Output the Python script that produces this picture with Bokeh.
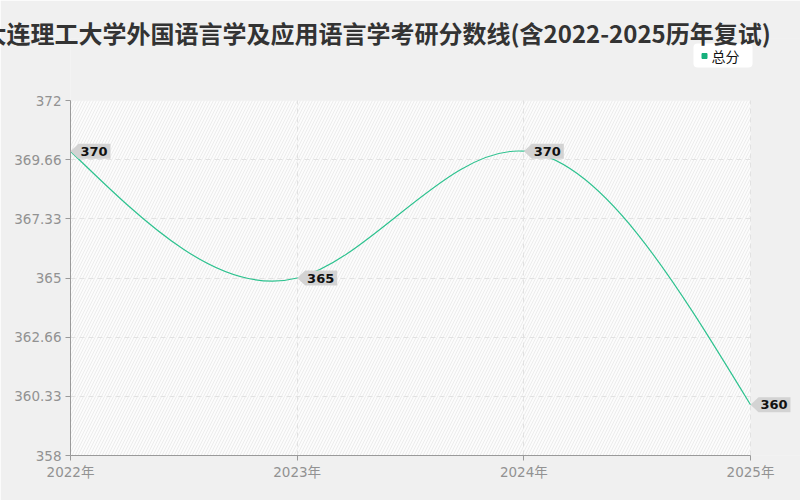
import numpy as np
from bokeh.plotting import figure
from bokeh.models import (FixedTicker, BoxAnnotation, Label, PolyAnnotation, Range1d)
from bokeh.embed import file_html
from bokeh.resources import INLINE

# ---------------- data ----------------
title_text = "大连理工大学外国语言学及应用语言学考研分数线(含2022-2025历年复试)"
series_name = "总分"
years = ["2022年", "2023年", "2024年", "2025年"]
scores = [370, 365, 370, 360]
y_tick_values = [358, 360.33, 362.66, 365, 367.33, 369.66, 372]
y_tick_labels = ["358", "360.33", "362.66", "365", "367.33", "369.66", "372"]

# ---------------- layout ----------------
W, H = 800, 500
PL, PR, PT, PB = 70, 750, 100, 455      # data area in canvas pixels
FT = 38                                  # frame top (room for legend / callouts)
x_lo, x_hi_data = 0, len(years) - 1
y_lo, y_hi_data = y_tick_values[0], y_tick_values[-1]
sx = (PR - PL) / (x_hi_data - x_lo)      # px per x unit
sy = (PB - PT) / (y_hi_data - y_lo)      # px per y unit
x_hi = x_hi_data + (W - PR) / sx
y_hi = y_hi_data + (PT - FT) / sy


def px_x(px):
    return x_lo + (px - PL) / sx


def px_y(py):
    return y_lo + (PB - py) / sy


LINE = "#2ec28f"
AXIS = "#9a9a9a"
LABEL = "#929292"
BG = "#f0f0f0"

p = figure(width=W, height=H, x_range=Range1d(x_lo, x_hi), y_range=Range1d(y_lo, y_hi),
           output_backend="svg", toolbar_location=None,
           min_border_left=PL, min_border_right=0, min_border_top=FT,
           min_border_bottom=H - PB)
p.border_fill_color = BG
p.background_fill_color = BG
p.outline_line_color = None

# hatched data area
p.add_layout(BoxAnnotation(left=x_lo, right=x_hi_data, bottom=y_lo, top=y_hi_data,
                           fill_color="#fcfcfc", fill_alpha=1, line_color=None,
                           hatch_pattern="right_diagonal_line", hatch_color="#ececec",
                           hatch_scale=6, hatch_weight=1, level="image"))

# axes
xs_idx = list(range(len(years)))
p.xaxis.ticker = FixedTicker(ticks=xs_idx)
p.xaxis.major_label_overrides = {i: years[i] for i in xs_idx}
p.xaxis.bounds = (x_lo, x_hi_data)
p.yaxis.ticker = FixedTicker(ticks=y_tick_values)
p.yaxis.major_label_overrides = {v: l for v, l in zip(y_tick_values, y_tick_labels)}
p.yaxis.bounds = (y_lo, y_hi_data)
for ax in (p.xaxis, p.yaxis):
    ax.axis_line_color = AXIS
    ax.major_tick_line_color = AXIS
    ax.minor_tick_line_color = None
    ax.major_tick_out = 5
    ax.major_tick_in = 0
    ax.major_label_text_color = LABEL
    ax.major_label_text_font = "DejaVu Sans, Noto Sans CJK SC"
    ax.major_label_text_font_size = "13.5px"
p.yaxis.major_label_standoff = 4
p.xaxis.major_label_standoff = 3

# grids
p.xgrid.ticker = FixedTicker(ticks=xs_idx)
p.ygrid.ticker = FixedTicker(ticks=y_tick_values[:-1])
for g in (p.xgrid, p.ygrid):
    g.grid_line_color = "#e2e2e2"
    g.grid_line_dash = "5 4"
    g.grid_line_width = 1
# keep grid lines inside the data area
p.add_layout(BoxAnnotation(bottom=y_hi_data, fill_color=BG, fill_alpha=1,
                           line_color=None, level="underlay"))
p.add_layout(BoxAnnotation(left=x_hi_data + 1 / sx, fill_color=BG, fill_alpha=1,
                           line_color=None, level="underlay"))

# legend box (underlay, so its marker glyph is drawn on top)
p.add_layout(BoxAnnotation(left=px_x(693), right=px_x(752), top=px_y(43), bottom=px_y(67),
                           fill_color="white", fill_alpha=1, line_color=None,
                           border_radius=4, level="underlay"))

# smooth line: natural cubic spline drawn as bezier segments
n = len(scores)
xv = np.arange(n, dtype=float)
yv = np.array(scores, dtype=float)
A = np.zeros((n, n)); rhs = np.zeros(n)
A[0, 0] = 1; A[-1, -1] = 1
for i in range(1, n - 1):
    A[i, i - 1], A[i, i], A[i, i + 1] = 1, 4, 1
    rhs[i] = 6 * (yv[i - 1] - 2 * yv[i] + yv[i + 1])
M = np.linalg.solve(A, rhs)
d = np.zeros(n)
for i in range(n - 1):
    d[i] = (yv[i + 1] - yv[i]) - (2 * M[i] + M[i + 1]) / 6
d[n - 1] = (yv[n - 1] - yv[n - 2]) + (M[n - 2] + 2 * M[n - 1]) / 6
p.bezier(x0=xv[:-1], y0=yv[:-1], x1=xv[1:], y1=yv[1:],
         cx0=xv[:-1] + 1 / 3, cy0=yv[:-1] + d[:-1] / 3,
         cx1=xv[1:] - 1 / 3, cy1=yv[1:] - d[1:] / 3,
         line_color=LINE, line_width=1.2)

# value callouts
shape_px = [(0, 0), (8, 7.5), (40, 7.5), (40, -7.5), (8, -7.5)]
for xi, yi in zip(xv, yv):
    p.add_layout(PolyAnnotation(xs=[xi + a / sx for a, b in shape_px],
                                ys=[yi + b / sy for a, b in shape_px],
                                fill_color="#d3d3d3", fill_alpha=1, line_color=None))
    p.add_layout(Label(x=xi, y=yi, text=str(int(yi)), x_offset=23.5,
                       text_align="center", text_baseline="middle",
                       text_font="DejaVu Sans", text_font_size="13px",
                       text_font_style="bold", text_color="#111111"))

# title
p.title.text = title_text
p.title.align = "left"
p.title.offset = -88
p.title.standoff = -22
p.title.text_font = "Noto Sans CJK SC"
p.title.text_font_size = "24px"
p.title.text_font_style = "bold"
p.title.text_color = "#333333"

# legend marker and label
p.scatter(x=[px_x(704)], y=[px_y(55.5)], marker="square", size=5,
          fill_color="#17b07c", line_color="#17b07c")
p.add_layout(Label(x=px_x(711), y=px_y(55.5), text=series_name,
                   text_align="left", text_baseline="middle",
                   text_font="Noto Sans CJK SC", text_font_size="14px",
                   text_color="#111111"))

html = file_html(p, INLINE)
html = html.replace("<body>", '<body style="margin:0;background:#f0f0f0;">', 1)
open("out.html", "w").write(html)
